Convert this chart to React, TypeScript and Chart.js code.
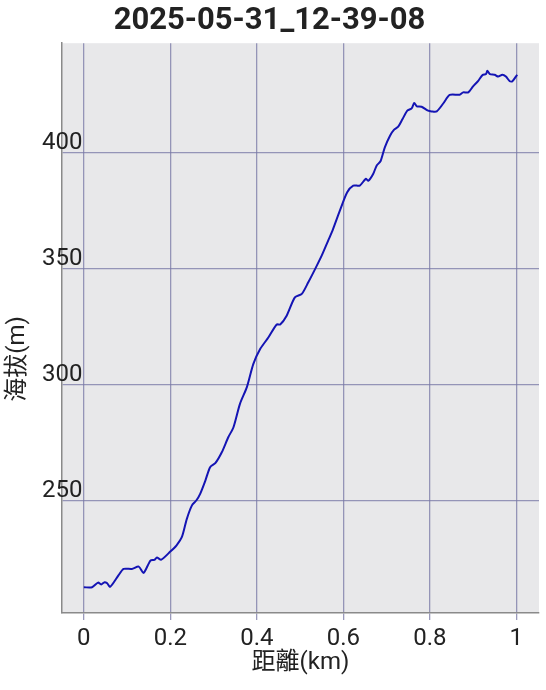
import React, { useEffect, useRef } from "react";
import { Chart, registerables } from "chart.js";

Chart.register(...registerables);

const TITLE = "2025-05-31_12-39-08";
const X_LABEL = "距離(km)";
const Y_LABEL = "海拔(m)";

const DIST = [
  0, 0.019, 0.033, 0.04, 0.048, 0.054, 0.061, 0.08, 0.092, 0.111, 0.127, 0.138,
  0.154, 0.163, 0.169, 0.179, 0.2, 0.214, 0.227, 0.238, 0.25, 0.26, 0.269, 0.281,
  0.292, 0.304, 0.319, 0.334, 0.346, 0.361, 0.377, 0.392, 0.408, 0.427, 0.446,
  0.454, 0.469, 0.488, 0.504, 0.519, 0.535, 0.55, 0.565, 0.575, 0.592, 0.609,
  0.623, 0.638, 0.652, 0.658, 0.669, 0.677, 0.686, 0.696, 0.708, 0.717, 0.727,
  0.737, 0.748, 0.758, 0.764, 0.77, 0.781, 0.796, 0.804, 0.816, 0.831, 0.846,
  0.869, 0.877, 0.889, 0.9, 0.912, 0.922, 0.93, 0.933, 0.939, 0.95, 0.958, 0.968,
  0.976, 0.985, 0.991, 1.002,
];

const ELEV = [
  212.6, 212.6, 214.6, 213.8, 214.8, 214.3, 212.8, 217.7, 220.5, 220.5, 221.5,
  218.8, 224.1, 224.4, 225.4, 224.5, 228, 230.6, 234.4, 242, 247.9, 250, 252.9,
  258.6, 264.4, 266.1, 270.8, 277.3, 281.6, 291.7, 298.9, 308.9, 315.4, 320.4,
  325.9, 325.9, 329.7, 337.6, 339.1, 344.1, 349.9, 355.6, 362.1, 366.4, 375,
  382.9, 385.8, 385.8, 388.7, 387.9, 390.8, 394.4, 396.3, 402.3, 407.3, 409.8,
  411.2, 414.5, 418.1, 419.1, 421.4, 420, 419.8, 418.1, 417.8, 417.8, 421.2,
  424.9, 425, 426, 426, 428.6, 431, 433.5, 433.9, 435.3, 433.9, 433.6, 432.8,
  433.6, 432.8, 430.8, 430.8, 433.6,
];

const X_TICKS = [0, 0.2, 0.4, 0.6, 0.8, 1];
const Y_TICKS = [250, 300, 350, 400];
const X_RANGE = [-0.0505, 1.0525];
const Y_RANGE = [201.5, 447.2];

const FONT = "Roboto, 'Noto Sans CJK TC', sans-serif";
const GRID = "rgba(120,120,165,0.75)";

const bgPlugin = {
  id: "plotBg",
  beforeDraw(chart: any) {
    const { ctx, chartArea } = chart;
    ctx.save();
    ctx.fillStyle = "#e8e8ea";
    ctx.fillRect(chartArea.left, chartArea.top, chartArea.right - chartArea.left, chartArea.bottom - chartArea.top);
    ctx.restore();
  },
};

const yTitlePlugin = {
  id: "yTitle",
  afterDraw(chart: any) {
    const { ctx } = chart;
    ctx.save();
    ctx.translate(18, 359);
    ctx.rotate(-Math.PI / 2);
    ctx.font = `24px ${FONT}`;
    ctx.fillStyle = "#222";
    ctx.textAlign = "center";
    ctx.textBaseline = "middle";
    ctx.fillText(Y_LABEL, 0, 0);
    ctx.restore();
  },
};

export default function App() {
  const ref = useRef<HTMLCanvasElement>(null);
  useEffect(() => {
    const chart = new Chart(ref.current!, {
      type: "line",
      data: {
        datasets: [
          {
            data: DIST.map((d, i) => ({ x: d, y: ELEV[i] })),
            borderColor: "#1414b4",
            borderWidth: 2,
            pointRadius: 0,
            tension: 0.25,
            fill: false,
          },
        ],
      },
      options: {
        responsive: false,
        animation: false,
        layout: { padding: { right: 7, left: 0, top: 0, bottom: 0 } },
        plugins: {
          legend: { display: false },
          tooltip: { enabled: false },
          title: {
            display: true,
            text: TITLE,
            color: "#222",
            font: { family: FONT, size: 31, weight: "bold" },
            padding: { top: 3, bottom: 3 },
          },
        },
        scales: {
          x: {
            type: "linear",
            min: X_RANGE[0],
            max: X_RANGE[1],
            afterBuildTicks: (s: any) => {
              s.ticks = X_TICKS.map((v) => ({ value: v }));
            },
            afterFit: (s: any) => {
              s.height = 77;
            },
            grid: { color: GRID, lineWidth: 1.3, drawTicks: true, tickLength: 7, tickColor: GRID },
            border: { display: true, color: "#8a8a8a", width: 1.5 },
            ticks: {
              color: "#222",
              font: { family: FONT, size: 24 },
              padding: 5,
              maxRotation: 0,
              autoSkip: false,
              callback: (v: any) => String(v),
            },
            title: {
              display: true,
              text: X_LABEL,
              color: "#222",
              font: { family: FONT, size: 24 },
              padding: { top: 12.5, bottom: 12.5 },
            },
          },
          y: {
            type: "linear",
            min: Y_RANGE[0],
            max: Y_RANGE[1],
            afterBuildTicks: (s: any) => {
              s.ticks = Y_TICKS.map((v) => ({ value: v }));
            },
            afterFit: (s: any) => {
              s.width = 62;
            },
            grid: { color: GRID, lineWidth: 1.3, drawTicks: false },
            border: { display: true, color: "#8a8a8a", width: 1.5 },
            ticks: {
              color: "#222",
              font: { family: FONT, size: 24 },
              mirror: true,
              padding: -20,
              labelOffset: -10,
              autoSkip: false,
              callback: (v: any) => String(v),
            },
          },
        },
      },
      plugins: [bgPlugin, yTitlePlugin],
    });
    return () => chart.destroy();
  }, []);
  return (
    <div style={{ position: "absolute", left: 0, top: 0, width: 546, height: 690, background: "#fff" }}>
      <canvas ref={ref} width={546} height={690} />
    </div>
  );
}
